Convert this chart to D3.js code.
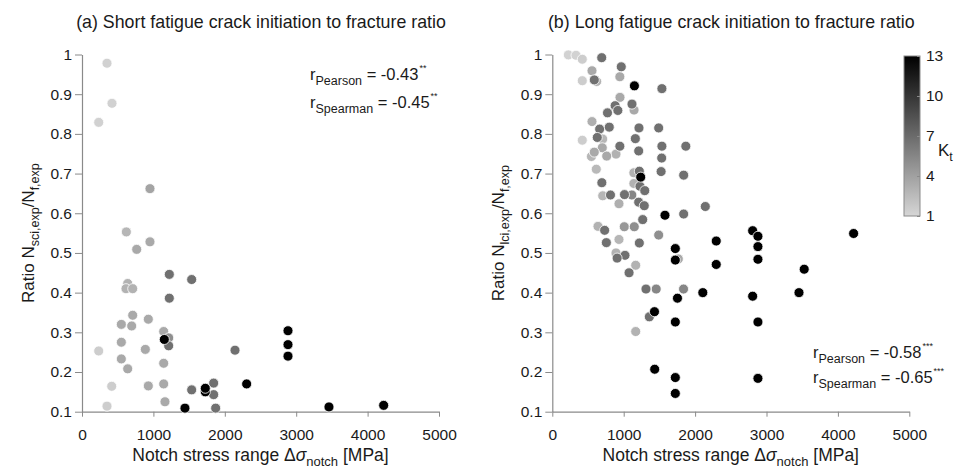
<!DOCTYPE html>
<html>
<head>
<meta charset="utf-8">
<script src="https://cdn.jsdelivr.net/npm/d3@7"></script>
<style>
  body { margin: 0; background: #fff; }
  svg text { font-family: "Liberation Sans", Arial, Helvetica, sans-serif; fill: #1a1a1a; }
</style>
</head>
<body>
<div id="chart"></div>
<script>
// (a) short crack initiation ratio: stress range [MPa], ratio, Kt
const SHORT_X = [350, 420, 234, 952, 621, 952, 766, 1223, 1536, 640, 616, 710, 1223, 710, 551, 696, 929, 1144,
  1214, 1214, 1153, 551, 234, 887, 2143, 551, 640, 1144, 416, 929, 1144, 1536, 1844, 1727, 1727, 1844,
  1162, 350, 1442, 1872, 2306, 2885, 2885, 2885, 3459, 4225];
const SHORT_Y = [0.978, 0.877, 0.829, 0.662, 0.553, 0.528, 0.509, 0.446, 0.433, 0.423, 0.41, 0.41, 0.386, 0.343, 0.32, 0.316, 0.333, 0.302,
  0.286, 0.266, 0.282, 0.275, 0.253, 0.257, 0.255, 0.233, 0.208, 0.222, 0.164, 0.165, 0.17, 0.155, 0.172, 0.15, 0.159, 0.143,
  0.125, 0.114, 0.109, 0.109, 0.17, 0.304, 0.269, 0.24, 0.112, 0.116];
const SHORT_KT = [1.3, 1.3, 1.3, 3.8, 2.8, 3.5, 3.5, 6.7, 6.7, 3, 3, 3, 6.7, 3.5, 3.5, 3.5, 3.5, 3.5,
  5, 6.7, 13, 3.5, 1.5, 3.5, 6.7, 3.5, 3.5, 3.5, 1.5, 3.5, 3.5, 6.7, 6.7, 13, 13, 6.7,
  3.5, 1.5, 13, 6.7, 13, 13, 13, 13, 13, 13];

// (b) long crack initiation ratio
const LONG_X = [225, 332, 420, 692, 556, 966, 946, 420, 588, 621, 1150, 1535, 948, 880, 1116, 1145, 773, 918,
  556, 663, 798, 1214, 1490, 630, 420, 706, 1163, 946, 1210, 1535, 1870, 1532, 700, 588, 548, 762, 892,
  616, 1219, 1142, 1524, 1238, 1840, 694, 1142, 1228, 1295, 815, 706, 1011, 1114, 934, 1210, 1288,
  2143, 1578, 1840, 1266, 640, 733, 1008, 1148, 1490, 757, 934, 1219, 1723, 2296, 1765, 1723, 2296,
  892, 1018, 908, 1075, 1168, 1312, 1455, 1838, 2108, 1753, 1431, 1359, 1723, 1168, 1434, 1723, 1723,
  2806, 2880, 2880, 4220, 2880, 3528, 2806, 3455, 2880, 2880];
const LONG_Y = [0.999, 0.998, 0.988, 0.992, 0.959, 0.969, 0.944, 0.934, 0.936, 0.932, 0.921, 0.914, 0.892, 0.871, 0.875, 0.86, 0.853, 0.859,
  0.831, 0.812, 0.817, 0.815, 0.815, 0.791, 0.784, 0.787, 0.788, 0.769, 0.757, 0.769, 0.769, 0.739, 0.765, 0.754, 0.743, 0.744, 0.749,
  0.711, 0.706, 0.702, 0.705, 0.691, 0.696, 0.677, 0.675, 0.668, 0.657, 0.646, 0.644, 0.647, 0.646, 0.624, 0.628, 0.619,
  0.617, 0.595, 0.598, 0.584, 0.567, 0.557, 0.566, 0.566, 0.545, 0.526, 0.534, 0.525, 0.511, 0.530, 0.485, 0.482, 0.471,
  0.5, 0.494, 0.487, 0.45, 0.469, 0.409, 0.409, 0.409, 0.4, 0.386, 0.352, 0.339, 0.326, 0.302, 0.207, 0.186, 0.146,
  0.556, 0.542, 0.516, 0.549, 0.484, 0.459, 0.391, 0.4, 0.326, 0.184];
const LONG_KT = [1.2, 1.2, 1.5, 6.7, 3.5, 6.7, 3.5, 1.5, 6.7, 3, 13, 6.7, 3.5, 6.7, 6.7, 3.5, 6.7, 6.7,
  3.2, 6.7, 6.7, 6.7, 6.7, 6.7, 1.5, 2.8, 6.7, 6.7, 6.7, 6.7, 6.7, 6.7, 3.5, 3.5, 2.8, 3.5, 3,
  2.6, 6.7, 3, 6.7, 13, 6.7, 6.7, 3, 6.7, 6.7, 6.7, 2.8, 6.7, 5.5, 3.2, 6.7, 6.7,
  6.7, 13, 6.7, 6.7, 3, 6.7, 4.5, 5, 5, 6.7, 2.8, 6.7, 13, 13, 3.5, 13, 13,
  3, 6.7, 6.7, 6.7, 3, 6.7, 5.5, 5.5, 13, 13, 13, 6.7, 13, 3, 13, 13, 13,
  13, 13, 13, 13, 13, 13, 13, 13, 13, 13];

const X_TICKS = [0, 1000, 2000, 3000, 4000, 5000];
const X_TICK_LABELS = ["0", "1000", "2000", "3000", "4000", "5000"];
const Y_TICKS = [0.1, 0.2, 0.3, 0.4, 0.5, 0.6, 0.7, 0.8, 0.9, 1];
const Y_TICK_LABELS = ["0.1", "0.2", "0.3", "0.4", "0.5", "0.6", "0.7", "0.8", "0.9", "1"];
const KT_TICKS = [1, 4, 7, 10, 13];

const TITLES = ["(a) Short fatigue crack initiation to fracture ratio", "(b) Long fatigue crack initiation to fracture ratio"];
const Y_SUBS = ["sci,exp", "lci,exp"];
const R_PEARSON = ["-0.43", "-0.58"];
const R_SPEARMAN = ["-0.45", "-0.65"];
const STARS = ["**", "***"];

const axisColor = "#8a8a8a";
const svg = d3.select("#chart").append("svg").attr("width", 956).attr("height", 472);

const color = d3.scaleLinear().domain([1, 13]).range(["#d6d6d6", "#000000"]);

function statLine(g, x, yb, sub, val, stars) {
  const t = g.append("text").attr("x", x).attr("y", yb).style("font-size", "16.5px");
  t.append("tspan").text("r");
  t.append("tspan").attr("dy", 5).style("font-size", "12.5px").text(sub);
  t.append("tspan").attr("dy", -5).text(" = " + val);
  t.append("tspan").attr("dy", -9).attr("dx", 1).style("font-size", "9px").text(stars);
}

function drawPanel(idx, left, xs, ys, kts) {
  const x = d3.scaleLinear().domain([0, 5000]).range([left, left + 357]);
  const y = d3.scaleLinear().domain([0.1, 1]).range([411.7, 54.5]);
  const g = svg.append("g");

  // axes
  const ax = g.append("g")
    .attr("transform", "translate(0," + y(0.1) + ")")
    .call(d3.axisBottom(x).tickValues(X_TICKS).tickFormat((d, i) => X_TICK_LABELS[i])
      .tickSize(5).tickSizeOuter(0).tickPadding(12));
  const ay = g.append("g")
    .attr("transform", "translate(" + x(0) + ",0)")
    .call(d3.axisLeft(y).tickValues(Y_TICKS).tickFormat((d, i) => Y_TICK_LABELS[i])
      .tickSize(7).tickSizeOuter(0).tickPadding(3));
  [ax, ay].forEach(a => {
    a.select(".domain").attr("stroke", axisColor).attr("stroke-width", 1.2);
    a.selectAll(".tick line").attr("stroke", axisColor);
    a.selectAll(".tick text").style("font-size", "15.5px").attr("fill", "#1a1a1a")
      .style("font-family", "'Liberation Sans', Arial, sans-serif");
  });

  // points, lighter first
  const pts = xs.map((v, i) => ({ x: v, y: ys[i], kt: kts[i] }))
    .sort((a, b) => a.kt - b.kt);
  g.selectAll("circle.pt")
    .data(pts)
    .enter()
    .append("circle")
    .attr("class", "pt")
    .attr("cx", d => x(d.x))
    .attr("cy", d => y(d.y))
    .attr("r", 5)
    .attr("fill", d => color(d.kt))
    .attr("stroke", "#fff")
    .attr("stroke-width", 0.8);

  // title
  g.append("text")
    .attr("x", left + 179)
    .attr("y", 28)
    .attr("text-anchor", "middle")
    .style("font-size", "17.8px")
    .text(TITLES[idx]);

  // x label
  const xl = g.append("text")
    .attr("x", left + 178.5)
    .attr("y", 461)
    .attr("text-anchor", "middle")
    .style("font-size", "17.5px");
  xl.append("tspan").text("Notch stress range \u0394");
  xl.append("tspan").style("font-style", "italic").text("\u03c3");
  xl.append("tspan").attr("dy", 5).style("font-size", "13px").text("notch");
  xl.append("tspan").attr("dy", -5).text(" [MPa]");

  // y label
  const yl = g.append("text")
    .attr("transform", "translate(" + (left - 48) + "," + y(0.55) + ") rotate(-90)")
    .attr("text-anchor", "middle")
    .style("font-size", "17px");
  yl.append("tspan").text("Ratio N");
  yl.append("tspan").attr("dy", 5).style("font-size", "12.5px").text(Y_SUBS[idx]);
  yl.append("tspan").attr("dy", -5).text("/N");
  yl.append("tspan").attr("dy", 5).style("font-size", "12.5px").text("f,exp");

  return g;
}

const ga = drawPanel(0, 82, SHORT_X, SHORT_Y, SHORT_KT);
const gb = drawPanel(1, 552.3, LONG_X, LONG_Y, LONG_KT);

statLine(ga, 310, 80, "Pearson", R_PEARSON[0], STARS[0]);
statLine(ga, 310, 108, "Spearman", R_SPEARMAN[0], STARS[0]);
statLine(gb, 813, 358, "Pearson", R_PEARSON[1], STARS[1]);
statLine(gb, 813, 383, "Spearman", R_SPEARMAN[1], STARS[1]);

// colorbar
const cb = svg.append("g");
const ky = d3.scaleLinear().domain([1, 13]).range([216, 56]);
const defs = svg.append("defs");
const grad = defs.append("linearGradient").attr("id", "ktgrad")
  .attr("x1", 0).attr("y1", 1).attr("x2", 0).attr("y2", 0);
grad.append("stop").attr("offset", "0%").attr("stop-color", color(1));
grad.append("stop").attr("offset", "100%").attr("stop-color", color(13));
cb.append("rect")
  .attr("x", 904).attr("y", ky(13))
  .attr("width", 16).attr("height", ky(1) - ky(13))
  .attr("fill", "url(#ktgrad)")
  .attr("stroke", axisColor).attr("stroke-width", 1);
const cax = cb.append("g")
  .attr("transform", "translate(920,0)")
  .call(d3.axisRight(ky).tickValues(KT_TICKS).tickSize(-3).tickSizeOuter(0).tickPadding(6));
cax.select(".domain").remove();
cax.selectAll(".tick line").attr("stroke", axisColor);
cax.selectAll(".tick text").style("font-size", "15.5px").attr("fill", "#1a1a1a")
  .style("font-family", "'Liberation Sans', Arial, sans-serif");
const kl = cb.append("text").attr("x", 938).attr("y", 156).style("font-size", "17px");
kl.append("tspan").text("K");
kl.append("tspan").attr("dy", 5).style("font-size", "12.5px").text("t");
</script>
</body>
</html>
